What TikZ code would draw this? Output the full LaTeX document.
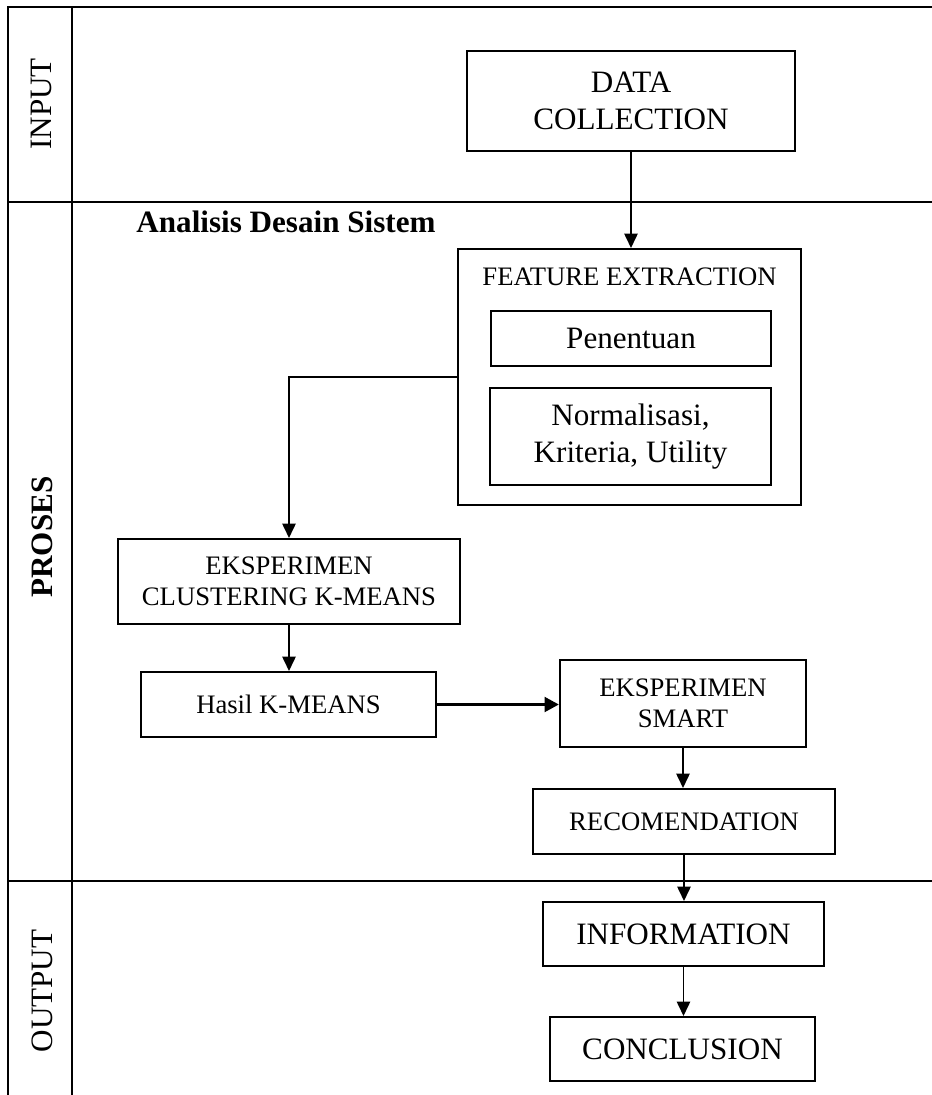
\documentclass[tikz,border=0pt]{standalone}
\usepackage{fontspec}
\setmainfont{Liberation Serif}
\usepackage{tikz}
\usetikzlibrary{arrows.meta}
\tikzset{arrow/.style={->, >={Triangle[length=6.5pt,width=6pt]}, line width=0.85pt}}
\tikzset{thick-arrow/.style={->, >={Triangle[length=6.5pt,width=6.5pt]}, line width=1.6pt}}
\tikzset{box/.style={draw, line width=0.9pt, align=center, inner sep=0pt}}
\tikzset{bigtxt/.style={font=\fontsize{14}{16.8}\selectfont}}
\tikzset{smalltxt/.style={font=\fontsize{12}{14}\selectfont}}
\tikzset{frame/.style={line width=1pt}}

\begin{document}
\begin{tikzpicture}[x=0.45pt, y=-0.45pt]
      \useasboundingbox (0, 0) rectangle (932, 1095);

      \draw[frame] (932, 7) -- (8, 7) -- (8, 1095);
      \draw[frame] (72, 7) -- (72, 1095);
      \draw[frame] (8, 202) -- (932, 202);
      \draw[frame] (8, 881) -- (932, 881);

      \node[bigtxt, rotate=90] (input) at (41, 104) {INPUT};
      \node[bigtxt, rotate=90, font=\fontsize{14}{16.8}\selectfont\bfseries] (proses) at (42, 537) {PROSES};
      \node[bigtxt, rotate=90] (output) at (42, 991) {OUTPUT};
      \node[bigtxt, font=\fontsize{14}{16.8}\selectfont\bfseries, anchor=base west, inner sep=0pt] (ads) at (136, 232) {Analisis Desain Sistem};

      \node[box, bigtxt, minimum width=147.6pt, minimum height=45pt] (dc) at (631, 101) {DATA\\COLLECTION};
      \node[box, minimum width=154.35pt, minimum height=115.2pt] (fe) at (629.5, 377) {};
      \node[smalltxt] (fetitle) at (629.5, 277) {FEATURE EXTRACTION};
      \node[box, bigtxt, minimum width=126pt, minimum height=24.75pt] (pen) at (631, 338.5) {Penentuan};
      \node[box, bigtxt, minimum width=126.45pt, minimum height=43.65pt] (norm) at (630.5, 436.5) {Normalisasi,\\Kriteria, Utility};
      \node[box, smalltxt, minimum width=153.45pt, minimum height=38.25pt] (ekc) at (289, 581.5) {EKSPERIMEN\\CLUSTERING K-MEANS};
      \node[box, smalltxt, minimum width=132.75pt, minimum height=29.25pt] (hasil) at (288.5, 704.5) {Hasil K-MEANS};
      \node[box, smalltxt, minimum width=110.7pt, minimum height=39.15pt] (smart) at (683, 703.5) {EKSPERIMEN\\SMART};
      \node[box, smalltxt, minimum width=135.9pt, minimum height=29.25pt] (rec) at (684, 821.5) {RECOMENDATION};
      \node[box, bigtxt, minimum width=126.45pt, minimum height=28.8pt] (info) at (683.5, 934) {INFORMATION};
      \node[box, bigtxt, minimum width=119.25pt, minimum height=28.8pt] (conc) at (682.5, 1049) {CONCLUSION};

      \draw[arrow] (dc) -- (dc.south |- fe.north);
      \draw[arrow] (fe.west) -| (ekc.north);
      \draw[arrow] (ekc) -- (ekc.south |- hasil.north);
      \draw[thick-arrow] (hasil.east) -- (hasil.east -| smart.west);
      \draw[arrow] (smart) -- (smart.south |- rec.north);
      \draw[arrow] (rec) -- (rec.south |- info.north);
      \draw[arrow] (info) -- (info.south |- conc.north);

    \end{tikzpicture}
\end{document}
